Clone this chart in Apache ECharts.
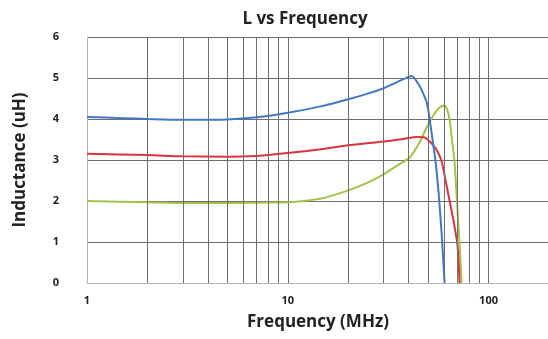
<!DOCTYPE html>
<html>
<head>
<meta charset="utf-8">
<script src="https://cdn.jsdelivr.net/npm/echarts@6/dist/echarts.min.js"></script>
<style>
  html, body { margin: 0; padding: 0; background: #fff; }
  #main { width: 548px; height: 339px; }
</style>
</head>
<body>
<div id="main"></div>
<script>
// frequency (MHz) / inductance (uH)
var blueFreq = [1, 1.5, 2, 3, 5, 7, 10, 15, 20, 25, 30, 35, 38, 41.4, 45.4, 46.9, 49.2, 50.3, 51.4, 52.6, 54.5, 56.4, 58.5, 60.4];
var blueL    = [4.05, 4.02, 4.0, 3.98, 3.99, 4.04, 4.15, 4.32, 4.48, 4.62, 4.75, 4.9, 4.98, 5.05, 4.8, 4.66, 4.4, 4.16, 3.85, 3.5, 2.95, 2.2, 1.15, 0];

var redFreq = [1, 2, 3, 5, 7, 10, 15, 20, 30, 38, 44, 48, 52.6, 55.8, 58.5, 61.1, 64, 67, 70.1, 71.7];
var redL    = [3.15, 3.12, 3.09, 3.08, 3.1, 3.17, 3.27, 3.36, 3.45, 3.52, 3.56, 3.55, 3.38, 3.2, 2.95, 2.5, 2.0, 1.5, 0.9, 0];

var greenFreq = [1, 2, 3, 5, 7, 10, 12, 15, 20, 25, 30, 36, 40.5, 45, 49, 53, 57, 60.4, 62.5, 64, 66.2, 67.7, 69.3, 71.7, 73.4];
var greenL    = [2.0, 1.97, 1.95, 1.95, 1.96, 1.97, 2.0, 2.07, 2.26, 2.45, 2.65, 2.9, 3.06, 3.4, 3.78, 4.08, 4.28, 4.33, 4.2, 3.98, 3.37, 2.95, 2.15, 0.98, 0];

var xLabels = [1, 10, 100];
var minorLines = [2, 3, 4, 5, 6, 7, 8, 9, 20, 30, 40, 50, 60, 70, 80, 90];

function pairs(xs, ys){
  var out = [];
  for (var i = 0; i < xs.length; i++) out.push([xs[i], ys[i]]);
  return out;
}

var fontFam = '"Open Sans", sans-serif';
var gridColor = '#6e6e6e';

var option = {
  animation: false,
  backgroundColor: '#fff',
  title: {
    text: 'L vs Frequency',
    left: 300,
    top: 6,
    textAlign: 'center',
    textStyle: { fontFamily: fontFam, fontWeight: 'bold', fontSize: 17, color: '#222' }
  },
  grid: { left: 87, right: -1, top: 37, bottom: 56, containLabel: false, outerBoundsMode: 'none' },
  xAxis: {
    type: 'log',
    logBase: 10,
    min: 1,
    max: 200,
    name: 'Frequency (MHz)',
    nameLocation: 'middle',
    nameGap: 31,
    nameTextStyle: { fontFamily: fontFam, fontWeight: 'bold', fontSize: 17, color: '#222' },
    axisLine: { show: true, lineStyle: { color: '#b5b5b5' } },
    axisTick: { show: false },
    axisLabel: {
      margin: 12,
      fontFamily: fontFam, fontWeight: 'bold', fontSize: 11, color: '#222',
      formatter: function(v){
        var r = Math.round(v);
        return xLabels.indexOf(r) >= 0 ? String(r) : '';
      }
    },
    splitLine: { show: true, lineStyle: { color: gridColor, width: 1 } }
  },
  yAxis: {
    type: 'value',
    min: 0,
    max: 6,
    interval: 1,
    name: 'Inductance (uH)',
    nameLocation: 'middle',
    nameGap: 58,
    nameTextStyle: { fontFamily: fontFam, fontWeight: 'bold', fontSize: 17, color: '#222' },
    axisLine: { show: true, lineStyle: { color: '#b5b5b5' } },
    axisTick: { show: false },
    axisLabel: { margin: 28, fontFamily: fontFam, fontWeight: 'bold', fontSize: 11, color: '#222' },
    splitLine: { show: true, lineStyle: { color: gridColor, width: 1 } }
  },
  series: [
    {
      name: 'grid minor',
      type: 'line',
      data: [],
      silent: true,
      markLine: {
        silent: true,
        symbol: 'none',
        label: { show: false },
        lineStyle: { color: gridColor, width: 1, type: 'solid' },
        data: minorLines.map(function(v){ return { xAxis: v }; })
      }
    },
    {
      name: 'green',
      type: 'line',
      data: pairs(greenFreq, greenL),
      smooth: 0.25,
      showSymbol: false,
      lineStyle: { color: '#a3c24a', width: 2 }
    },
    {
      name: 'red',
      type: 'line',
      data: pairs(redFreq, redL),
      smooth: 0.25,
      showSymbol: false,
      lineStyle: { color: '#d7353f', width: 2 }
    },
    {
      name: 'blue',
      type: 'line',
      data: pairs(blueFreq, blueL),
      smooth: 0.25,
      showSymbol: false,
      lineStyle: { color: '#4078c3', width: 2 }
    }
  ]
};

var chart = echarts.init(document.getElementById('main'));
chart.setOption(option);
window.addEventListener('resize', function(){ chart.resize(); });
</script>
</body>
</html>
